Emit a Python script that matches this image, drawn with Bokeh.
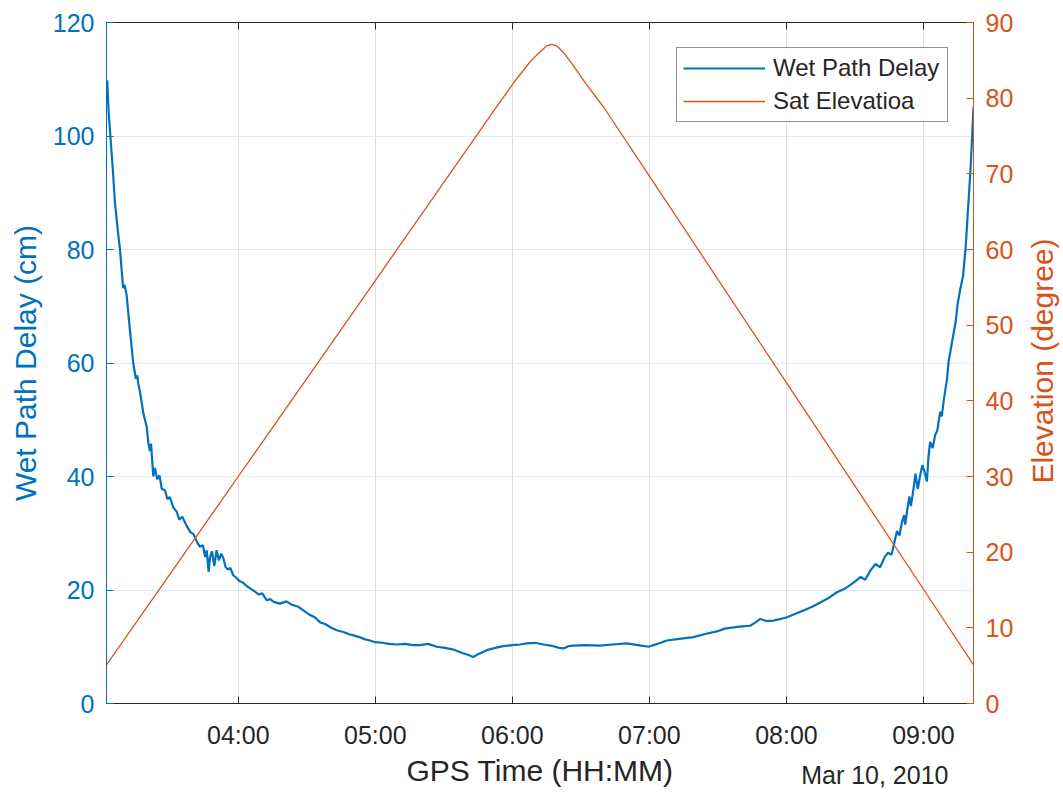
import math
from bokeh.plotting import figure
from bokeh.models import (Range1d, LinearAxis, FixedTicker, Legend, LegendItem,
                          CustomJSTickFormatter, Label)
from bokeh.embed import file_html
from bokeh.resources import INLINE

# GPS time in minutes after midnight (Mar 10, 2010)
wpd_time = [182.6, 183.2, 184.0, 185.0, 186.0, 187.2, 188.2, 189.6, 190.2, 191.1,
            192.5, 194.0, 195.2, 195.8, 196.2, 197.0, 198.5, 199.9, 200.6, 201.3,
            201.8, 202.8, 203.5, 204.5, 205.5, 206.5, 207.9, 209.0, 210.0, 211.5,
            213.0, 214.2, 215.5, 217.4, 219.0, 220.5, 222.0, 223.2, 224.5, 225.5,
            226.2, 227.0, 227.6, 228.5, 229.5, 230.5, 231.5, 232.5, 233.4, 234.5,
            235.5, 236.5, 237.8, 239.0, 240.5, 242.0, 243.7, 245.5, 247.0, 249.0,
            250.5, 252.4, 254.0, 255.5, 258.3, 261.0, 263.5, 266.0, 268.5, 271.0,
            273.5, 275.8, 278.0, 280.5, 283.1, 286.0, 288.5, 290.4, 293.0, 295.5,
            297.7, 299.9, 303.0, 306.0, 309.4, 313.0, 316.5, 319.6, 323.0, 326.9,
            330.5, 334.2, 338.0, 340.5, 342.9, 345.0, 348.8, 352.5, 356.1, 360.0,
            363.4, 366.3, 370.0, 373.6, 378.0, 380.5, 382.4, 384.5, 386.7, 392.0,
            398.4, 404.0, 410.1, 415.0, 419.6, 423.5, 427.6, 433.0, 439.3, 444.0,
            449.5, 453.0, 456.8, 460.5, 464.1, 466.5, 468.5, 471.5, 474.3, 477.5,
            480.2, 484.0, 487.5, 491.5, 494.8, 498.5, 502.1, 505.5, 509.4, 512.5,
            514.5, 516.7, 519.0, 521.0, 523.0, 524.5, 526.0, 527.5, 528.4, 529.5,
            530.5, 531.5, 532.0, 532.8, 533.8, 534.5, 535.7, 536.5, 537.5, 538.6,
            539.5, 540.5, 541.5, 542.2, 542.9, 544.0, 545.1, 546.0, 547.3, 548.0,
            548.8, 550.3, 551.0, 552.5, 554.0, 555.0, 556.1, 557.3, 558.5, 559.3,
            560.5, 561.2, 561.9]
wpd_cm = [109.8, 104.5, 100.0, 94.5, 88.3, 83.5, 80.0, 73.2, 73.8, 72.0,
          66.0, 60.0, 57.2, 57.8, 56.4, 54.8, 51.0, 48.8, 46.0, 44.5,
          45.8, 40.0, 41.5, 39.5, 40.2, 37.8, 37.6, 36.0, 36.4, 34.6,
          33.8, 32.4, 32.9, 31.3, 30.2, 29.8, 28.4, 27.6, 27.9, 25.8,
          27.0, 23.2, 25.7, 26.8, 24.2, 27.0, 25.2, 26.4, 25.7, 24.0,
          23.6, 23.9, 22.6, 22.2, 21.6, 21.3, 20.7, 20.2, 19.8, 19.2,
          19.4, 18.2, 18.4, 17.9, 17.6, 18.0, 17.4, 17.1, 16.4, 15.7,
          15.2, 14.3, 14.0, 13.4, 12.9, 12.6, 12.2, 12.0, 11.7, 11.3,
          11.1, 10.8, 10.7, 10.5, 10.4, 10.5, 10.3, 10.3, 10.5, 10.0,
          9.8, 9.5, 8.9, 8.6, 8.2, 8.7, 9.4, 9.8, 10.1, 10.3,
          10.4, 10.6, 10.7, 10.4, 10.1, 9.8, 9.7, 10.1, 10.2, 10.3,
          10.2, 10.4, 10.6, 10.3, 10.0, 10.5, 11.1, 11.4, 11.7, 12.2,
          12.7, 13.2, 13.4, 13.6, 13.7, 14.3, 14.9, 14.5, 14.6, 14.9,
          15.2, 15.8, 16.4, 17.1, 17.8, 18.6, 19.6, 20.2, 21.3, 22.3,
          21.8, 23.4, 24.6, 24.0, 25.8, 26.6, 26.2, 28.8, 30.4, 29.6,
          31.8, 33.2, 31.5, 33.9, 36.5, 34.8, 38.0, 40.5, 37.8, 40.3,
          42.0, 40.8, 39.1, 43.5, 46.1, 45.0, 47.3, 48.0, 51.4, 50.6,
          53.2, 57.2, 60.2, 63.7, 67.0, 70.5, 73.0, 75.3, 80.5, 85.8,
          93.4, 99.0, 105.1]

elev_time = [182.3, 240.0, 300.0, 354.6, 362.0, 368.0, 372.0, 375.0, 377.2,
             379.5, 382.5, 386.0, 392.0, 400.0, 420.0, 480.0, 540.0, 561.9]
elev_deg = [5.1, 30.0, 55.9, 79.5, 82.6, 84.9, 86.1, 86.9, 87.1,
            86.9, 86.0, 84.6, 82.0, 78.8, 69.7, 42.4, 15.1, 5.1]

hour_ticks = [240, 300, 360, 420, 480, 540]
hour_labels = ["04:00", "05:00", "06:00", "07:00", "08:00", "09:00"]
wpd_ticks = [0, 20, 40, 60, 80, 100, 120]
elev_ticks = [0, 10, 20, 30, 40, 50, 60, 70, 80, 90]
date_text = "Mar 10, 2010"
elev_title = "Elevation (degree)"

DATE_ANCHOR = 518.7      # minutes, centre of the date text

BLUE = "#0072BD"
ORANGE = "#D95319"
DARK = "#262626"
FONT = "Liberation Sans"

W, H = 1063, 791
p = figure(width=W, height=H, x_range=Range1d(182.3, 561.9),
           y_range=Range1d(0, 120), output_backend="svg", toolbar_location=None,
           min_border_left=106, min_border_right=90, min_border_top=22,
           min_border_bottom=84)
p.extra_y_ranges = {"elev": Range1d(0, 90)}

p.outline_line_color = DARK
p.outline_line_width = 1

# grids
p.xgrid.ticker = FixedTicker(ticks=hour_ticks)
p.xgrid.grid_line_color = "#dfdfdf"
p.ygrid.ticker = FixedTicker(ticks=wpd_ticks)
p.ygrid.grid_line_color = "#d9eaf5"

def style_axis(ax, color, label_size="30px"):
    ax.axis_line_color = color
    ax.major_tick_line_color = color
    ax.major_tick_in = 7
    ax.major_tick_out = 0
    ax.minor_tick_line_color = None
    ax.major_label_text_color = color
    ax.major_label_text_font = FONT
    ax.major_label_text_font_size = "25px"
    ax.axis_label_text_color = color
    ax.axis_label_text_font = FONT
    ax.axis_label_text_font_size = label_size
    ax.axis_label_text_font_style = "normal"

def bare_axis(ax):
    ax.axis_line_color = None
    ax.major_tick_line_color = None
    ax.major_tick_in = 0
    ax.major_tick_out = 0

# bottom x axis
xa = p.xaxis[0]
xa.ticker = FixedTicker(ticks=hour_ticks)
xa.major_label_overrides = {t: l for t, l in zip(hour_ticks, hour_labels)}
xa.axis_label = "GPS Time (HH:MM)"
style_axis(xa, DARK)
xa.major_label_standoff = 17
xa.axis_label_standoff = 2

# date text, on the same line as the x-axis title
da = LinearAxis(ticker=FixedTicker(ticks=[DATE_ANCHOR]),
                major_label_overrides={DATE_ANCHOR: date_text})
style_axis(da, DARK)
bare_axis(da)
da.major_label_standoff = -29
p.add_layout(da, "below")

# top x axis (ticks only)
top = LinearAxis(ticker=FixedTicker(ticks=hour_ticks),
                 formatter=CustomJSTickFormatter(code="return ''"))
style_axis(top, DARK)
top.axis_line_color = None
top.major_label_standoff = 0
p.add_layout(top, "above")

# left y axis
ya = p.yaxis[0]
ya.ticker = FixedTicker(ticks=wpd_ticks)
ya.axis_label = "Wet Path Delay (cm)"
style_axis(ya, BLUE)
ya.major_label_standoff = 12
ya.axis_label_standoff = 8

# right y axis
ra = LinearAxis(y_range_name="elev", ticker=FixedTicker(ticks=elev_ticks))
style_axis(ra, ORANGE)
ra.major_label_standoff = 12
p.add_layout(ra, "right")

# right axis title, reading bottom-to-top, in its own side panel
rt = Label(x=26, y=342.5, x_units="screen", y_units="screen", text=elev_title,
           angle=math.pi / 2, text_align="center", text_baseline="middle",
           text_font=FONT, text_font_size="30px", text_color=ORANGE)
p.add_layout(rt, "right")

r1 = p.line(wpd_time, wpd_cm, line_color=BLUE, line_width=2.2)
r2 = p.line(elev_time, elev_deg, line_color=ORANGE, line_width=1.3,
            y_range_name="elev")

legend = Legend(items=[LegendItem(label="Wet Path Delay", renderers=[r1]),
                       LegendItem(label="Sat Elevatioa", renderers=[r2])],
                location="top_right")
legend.margin = 25
legend.padding = 6
legend.spacing = 5
legend.glyph_width = 82
legend.glyph_height = 26
legend.label_height = 26
legend.label_width = 168
legend.label_standoff = 8
legend.border_line_color = DARK
legend.border_line_width = 1
legend.label_text_font = FONT
legend.label_text_font_size = "24px"
legend.label_text_color = DARK
p.add_layout(legend)

open("out.html", "w").write(file_html(p, INLINE))
